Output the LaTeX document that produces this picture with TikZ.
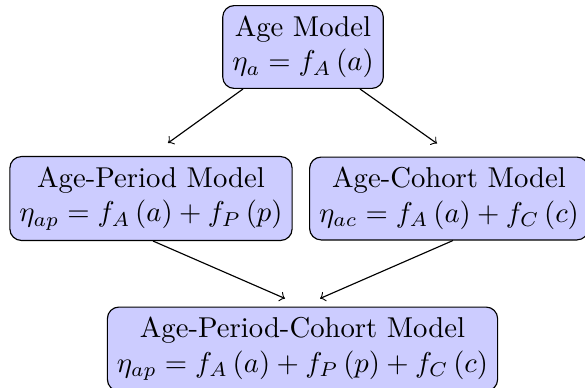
\documentclass[tikz,border=0pt]{standalone}
\begin{document}
\begin{tikzpicture}[x=0.3484pt,y=-0.3484pt,
  model/.style={draw=black,fill=blue!20,rounded corners,align=center,inner ysep=3.6pt},
  link/.style={->}]
\useasboundingbox (0,0) rectangle (585,387);
\node[model] (age) at (303,47) {Age Model\\ $\eta_a = f_A\left(a\right)$};
\node[model] (ap) at (151,198.5) {Age-Period Model\\ $\eta_{ap} = f_A\left(a\right) + f_P\left(p\right)$};
\node[model] (ac) at (449,198.5) {Age-Cohort Model\\ $\eta_{ac} = f_A\left(a\right) + f_C\left(c\right)$};
\node[model] (apc) at (302.5,349) {Age-Period-Cohort Model\\ $\eta_{ap} = f_A\left(a\right) + f_P\left(p\right) + f_C\left(c\right)$};
\draw[link] ([shift={(-60,0)}]age.south) -- ([shift={(17,-13)}]ap.north);
\draw[link] ([shift={(57,0)}]age.south) -- ([shift={(-12,-13)}]ac.north);
\draw[link] ([shift={(2,0)}]ap.south) -- ([shift={(-17.5,-8)}]apc.north);
\draw[link] ([shift={(4,0)}]ac.south) -- ([shift={(17.5,-8)}]apc.north);
\end{tikzpicture}
\end{document}
